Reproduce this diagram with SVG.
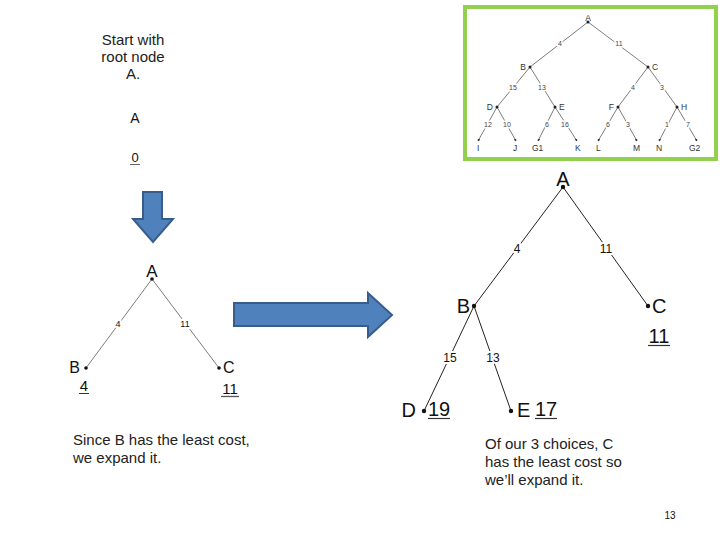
<svg xmlns="http://www.w3.org/2000/svg" width="720" height="540" viewBox="0 0 720 540">
<defs>
<marker id="ah" viewBox="0 0 6 6" refX="5" refY="3" markerWidth="4" markerHeight="4" orient="auto"><path d="M0,0 L6,3 L0,6 z" fill="#333"/></marker>
<style>
text{font-family:"Liberation Sans",Arial,sans-serif;fill:#111}
.e{stroke:#222;stroke-width:1;fill:none}
.es{stroke:#444;stroke-width:0.7;fill:none}
.lbl{paint-order:stroke;stroke:#fff;stroke-width:4px;stroke-linejoin:round}
.mini{font-size:8.5px;fill:#333}
.minil{font-size:7px;fill:#444;paint-order:stroke;stroke:#fff;stroke-width:3px}
.arrow{fill:#4F81BD;stroke:#385D8A;stroke-width:2}
.para{font-size:15px;fill:#222}
</style>
</defs>
<rect width="720" height="540" fill="#fff"/>

<g id="full-tree">
<rect x="465" y="7" width="251" height="152" fill="#fff" stroke="#92D050" stroke-width="4"/>
<g class="es">
<line x1="588" y1="22" x2="530" y2="67"/><line x1="588" y1="22" x2="648" y2="67"/>
<line x1="530" y1="67" x2="497" y2="107"/><line x1="530" y1="67" x2="555" y2="107"/>
<line x1="648" y1="67" x2="618" y2="107"/><line x1="648" y1="67" x2="677" y2="107"/>
<line x1="497" y1="107" x2="478" y2="141" marker-end="url(#ah)"/><line x1="497" y1="107" x2="516" y2="141" marker-end="url(#ah)"/>
<line x1="555" y1="107" x2="538" y2="141" marker-end="url(#ah)"/><line x1="555" y1="107" x2="577" y2="141" marker-end="url(#ah)"/>
<line x1="618" y1="107" x2="598" y2="141" marker-end="url(#ah)"/><line x1="618" y1="107" x2="637" y2="141" marker-end="url(#ah)"/>
<line x1="677" y1="107" x2="659" y2="141" marker-end="url(#ah)"/><line x1="677" y1="107" x2="697" y2="141" marker-end="url(#ah)"/>
</g>
<g fill="#222">
<circle cx="588" cy="22" r="1.5"/><circle cx="530" cy="67" r="1.5"/><circle cx="648" cy="67" r="1.5"/>
<circle cx="497" cy="107" r="1.5"/><circle cx="555" cy="107" r="1.5"/><circle cx="618" cy="107" r="1.5"/><circle cx="677" cy="107" r="1.5"/>
</g>
<text class="mini" x="588" y="21" text-anchor="middle">A</text>
<text class="mini" x="526" y="70" text-anchor="end">B</text>
<text class="mini" x="652" y="70">C</text>
<text class="mini" x="493" y="110" text-anchor="end">D</text>
<text class="mini" x="559" y="110">E</text>
<text class="mini" x="614" y="110" text-anchor="end">F</text>
<text class="mini" x="681" y="110">H</text>
<text class="mini" x="477" y="151">I</text>
<text class="mini" x="513" y="151">J</text>
<text class="mini" x="532" y="151">G1</text>
<text class="mini" x="575" y="151">K</text>
<text class="mini" x="596" y="151">L</text>
<text class="mini" x="633" y="151">M</text>
<text class="mini" x="656" y="151">N</text>
<text class="mini" x="689" y="151">G2</text>
<g text-anchor="middle">
<text class="minil" x="560" y="46">4</text><text class="minil" x="619" y="46">11</text>
<text class="minil" x="513" y="90">15</text><text class="minil" x="542" y="90">13</text>
<text class="minil" x="633" y="90">4</text><text class="minil" x="662" y="90">3</text>
<text class="minil" x="488" y="127">12</text><text class="minil" x="507" y="127">10</text>
<text class="minil" x="547" y="127">6</text><text class="minil" x="565" y="127">16</text>
<text class="minil" x="608" y="127">6</text><text class="minil" x="628" y="127">3</text>
<text class="minil" x="667" y="127">1</text><text class="minil" x="688" y="127">7</text>
</g>
</g>

<g id="step1">
<text class="para" x="133" y="45" text-anchor="middle">Start with</text>
<text class="para" x="133" y="62" text-anchor="middle">root node</text>
<text class="para" x="133" y="79" text-anchor="middle">A.</text>
<text x="135" y="123" font-size="14" text-anchor="middle" fill="#222">A</text>
<text x="135" y="162" font-size="13" text-anchor="middle" fill="#222">0</text>
<line x1="130" y1="164.5" x2="140" y2="164.5" stroke="#666" stroke-width="1"/>
</g>

<g id="arrow-down">
<polygon class="arrow" points="143,192 162,192 162,219 173,219 153,242 133,219 143,219"/>
</g>

<g id="step2">
<g class="es">
<line x1="152" y1="279" x2="86" y2="368"/>
<line x1="152" y1="279" x2="219" y2="368"/>
</g>
<circle cx="152" cy="279" r="1.8" fill="#111"/>
<circle cx="86" cy="368" r="1.8" fill="#111"/>
<circle cx="219" cy="368" r="1.8" fill="#111"/>
<text x="152" y="277" font-size="17" text-anchor="middle">A</text>
<text x="80" y="373" font-size="16" text-anchor="end">B</text>
<text x="223" y="373" font-size="16">C</text>
<text class="lbl" x="118" y="327" font-size="9" text-anchor="middle" fill="#333">4</text>
<text class="lbl" x="185" y="327" font-size="9" text-anchor="middle" fill="#333">11</text>
<text x="84" y="391" font-size="15" text-anchor="middle" fill="#222">4</text>
<line x1="79" y1="393.5" x2="89" y2="393.5" stroke="#333" stroke-width="1"/>
<text x="230" y="394" font-size="15" text-anchor="middle" fill="#222">11</text>
<line x1="221" y1="396.5" x2="239" y2="396.5" stroke="#555" stroke-width="1.3"/>
<text class="para" x="73" y="445">Since B has the least cost,</text>
<text class="para" x="73" y="463">we expand it.</text>
</g>

<g id="arrow-right">
<polygon class="arrow" points="234,303 368,303 368,293 392,315 368,337 368,326 234,326"/>
</g>

<g id="step3">
<g class="e">
<line x1="563" y1="187" x2="474" y2="306"/>
<line x1="563" y1="187" x2="648" y2="306"/>
<line x1="474" y1="306" x2="424" y2="411"/>
<line x1="474" y1="306" x2="511" y2="411"/>
</g>
<g fill="#111">
<circle cx="563" cy="187" r="2.2"/><circle cx="474" cy="306" r="2.2"/><circle cx="648" cy="306" r="2.2"/>
<circle cx="424" cy="411" r="2.2"/><circle cx="511" cy="411" r="2.2"/>
</g>
<text x="563" y="186" font-size="20" text-anchor="middle">A</text>
<text x="470" y="313" font-size="20" text-anchor="end">B</text>
<text x="652" y="313" font-size="20">C</text>
<text class="lbl" x="517" y="253" font-size="12" text-anchor="middle" fill="#333">4</text>
<text class="lbl" x="606" y="253" font-size="12" text-anchor="middle" fill="#333">11</text>
<text class="lbl" x="450" y="362" font-size="12" text-anchor="middle" fill="#333">15</text>
<text class="lbl" x="493" y="362" font-size="12" text-anchor="middle" fill="#333">13</text>
<text x="659" y="343" font-size="20" text-anchor="middle">11</text>
<line x1="648" y1="345.5" x2="670" y2="345.5" stroke="#333" stroke-width="1.2"/>
<text x="416" y="417" font-size="20" text-anchor="end">D</text>
<text x="428" y="416" font-size="20">19</text>
<line x1="428" y1="418.5" x2="450" y2="418.5" stroke="#333" stroke-width="1.2"/>
<text x="517" y="417" font-size="20">E</text>
<text x="535" y="416" font-size="20">17</text>
<line x1="535" y1="418.5" x2="557" y2="418.5" stroke="#333" stroke-width="1.2"/>
<text class="para" x="485" y="449">Of our 3 choices, C</text>
<text class="para" x="485" y="467">has the least cost so</text>
<text class="para" x="485" y="485">we’ll expand it.</text>
</g>

<text x="670" y="519" font-size="10" text-anchor="middle" fill="#888">13</text>
</svg>
